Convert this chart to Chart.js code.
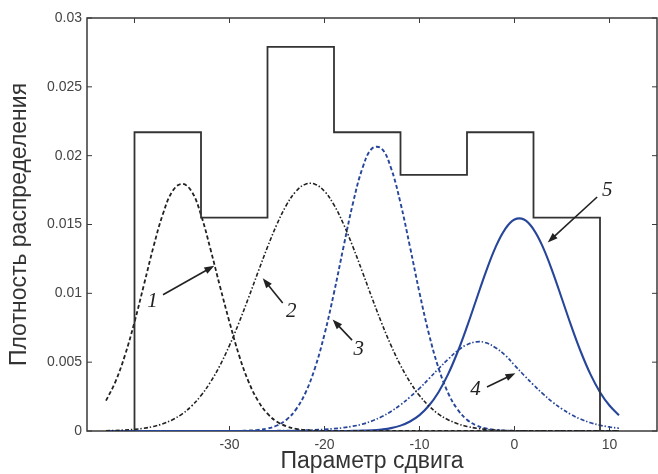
<!DOCTYPE html>
<html>
<head>
<meta charset="utf-8">
<script src="https://cdn.jsdelivr.net/npm/chart.js@4.4.1/dist/chart.umd.min.js"></script>
<style>
    html, body { margin: 0; padding: 0; background: #fff; }
    canvas { display: block; }
</style>
</head>
<body>
<canvas id="chart" width="658" height="474"></canvas>
<script>
// Sample points of the density curves (shift parameter)
const xGrid = [-43, -42, -41, -40, -39, -38, -37, -36, -35, -34, -33, -32, -31, -30,
    -29, -28, -27, -26, -25, -24, -23, -22, -21, -20, -19, -18, -17, -16, -15, -14,
    -13, -12, -11, -10, -9, -8, -7, -6, -5, -4, -3, -2, -1, 0, 1, 2, 3, 4, 5, 6,
    7, 8, 9, 10, 11];

const curve1 = [0.00220, 0.00359, 0.00551, 0.00791, 0.01064, 0.01339, 0.01578, 0.01742, 0.01795, 0.01742,
    0.01570, 0.01320, 0.01050, 0.00791, 0.00551, 0.00359, 0.00220, 0.00126, 0.00067, 0.00034,
    0.00016, 0.00007, 0.00003, 0.00001, 0, 0, 0, 0, 0, 0,
    0, 0, 0, 0, 0, 0, 0, 0, 0, 0, 0, 0, 0, 0, 0, 0, 0, 0, 0, 0, 0, 0, 0, 0, 0];

const curve2 = [0.00002, 0.00004, 0.00007, 0.00012, 0.00020, 0.00033, 0.00053, 0.00082, 0.00123, 0.00181,
    0.00257, 0.00356, 0.00477, 0.00622, 0.00787, 0.00967, 0.01154, 0.01336, 0.01503, 0.01642,
    0.01741, 0.01793, 0.01793, 0.01741, 0.01642, 0.01503, 0.01336, 0.01154, 0.00967, 0.00787,
    0.00622, 0.00477, 0.00356, 0.00257, 0.00181, 0.00123, 0.00082, 0.00053, 0.00033, 0.00020,
    0.00012, 0.00007, 0.00004, 0.00002, 0.00001, 0, 0, 0, 0, 0, 0, 0, 0, 0, 0];

const curve3 = [0, 0, 0, 0, 0, 0, 0, 0, 0, 0, 0, 0, 0, 0,
    0.00001, 0.00003, 0.00008, 0.00018, 0.00040, 0.00082, 0.00157, 0.00278, 0.00458, 0.00703,
    0.01004, 0.01337, 0.01656, 0.01910, 0.02052, 0.02052, 0.01910, 0.01656, 0.01337, 0.01004,
    0.00703, 0.00458, 0.00278, 0.00157, 0.00082, 0.00040, 0.00018, 0.00008, 0.00003, 0.00001,
    0, 0, 0, 0, 0, 0, 0, 0, 0, 0, 0];

const curve4 = [0, 0, 0, 0, 0, 0, 0, 0, 0, 0, 0, 0, 0, 0, 0, 0, 0,
    0.00001, 0.00002, 0.00003, 0.00004, 0.00006, 0.00008, 0.00012, 0.00017, 0.00024, 0.00035,
    0.00050, 0.00073, 0.00103, 0.00142, 0.00190, 0.00247, 0.00310, 0.00380, 0.00452, 0.00520,
    0.00583, 0.00627, 0.00648, 0.00641, 0.00605, 0.00552, 0.00478, 0.00405, 0.00335, 0.00270,
    0.00210, 0.00160, 0.00118, 0.00085, 0.00060, 0.00042, 0.00029, 0.00020];

const curve5 = [0, 0, 0, 0, 0, 0, 0, 0, 0, 0, 0, 0, 0, 0, 0, 0, 0, 0, 0, 0, 0, 0, 0, 0, 0, 0,
    0.00001, 0.00003, 0.00005, 0.00011, 0.00021, 0.00039, 0.00069, 0.00115, 0.00185, 0.00282,
    0.00411, 0.00572, 0.00758, 0.00959, 0.01158, 0.01334, 0.01465, 0.01536, 0.01536, 0.01465,
    0.01334, 0.01158, 0.00959, 0.00758, 0.00572, 0.00411, 0.00282, 0.00185, 0.00115];

// Histogram: bin edges and densities
const histEdges = [-40, -33, -26, -19, -12, -5, 2, 9];
const histHeights = [0.0217, 0.0155, 0.0279, 0.0217, 0.0186, 0.0217, 0.0155];

// Axis ticks
const xTickValues = [-40, -30, -20, -10, 0, 10];
const xTickLabels = ['', '-30', '-20', '-10', '0', '10'];
const yTickValues = [0, 0.005, 0.01, 0.015, 0.02, 0.025, 0.03];
const yTickLabels = ['0', '0.005', '0.01', '0.015', '0.02', '0.025', '0.03'];

// Numbered callouts: label point, arrow start, arrow tip (data units)
const callouts = [
    { text: '1', at: [-38.1, 0.0094], from: [-37.0, 0.0099], to: [-31.6, 0.0120] },
    { text: '2', at: [-23.5, 0.0087], from: [-24.4, 0.0093], to: [-26.5, 0.0111] },
    { text: '3', at: [-16.4, 0.0059], from: [-17.1, 0.0066], to: [-19.15, 0.0081] },
    { text: '4', at: [-4.1, 0.0030], from: [-2.9, 0.0032], to: [0.1, 0.0042] },
    { text: '5', at: [9.75, 0.0175], from: [8.7, 0.0170], to: [3.5, 0.0137] },
];

const BLUE = '#27469a';
const DARK = '#333333';
const SANS = '"Liberation Sans", Arial, sans-serif';

const toPoints = ys => xGrid.map((x, i) => ({ x: x, y: ys[i] }));

// histogram outline as a stepped line (horizontal first, then vertical)
const histPoints = [{ x: histEdges[0], y: 0 }];
histHeights.forEach((h, i) => histPoints.push({ x: histEdges[i], y: h }));
histPoints.push({ x: histEdges[histEdges.length - 1], y: 0 });

function drawArrow(ctx, x0, y0, x1, y1) {
    const ang = Math.atan2(y1 - y0, x1 - x0);
    const len = 10, half = 3.6;
    const c = Math.cos(ang), s = Math.sin(ang);
    ctx.beginPath();
    ctx.moveTo(x0, y0);
    ctx.lineTo(x1 - c * len * 0.7, y1 - s * len * 0.7);
    ctx.stroke();
    ctx.beginPath();
    ctx.moveTo(x1, y1);
    ctx.lineTo(x1 - len * c + half * s, y1 - len * s - half * c);
    ctx.lineTo(x1 - len * c - half * s, y1 - len * s + half * c);
    ctx.closePath();
    ctx.fill();
}

const frameAndNotes = {
    id: 'frameAndNotes',
    beforeDatasetsDraw(chart) {
        const { ctx, chartArea: a, scales: { x, y } } = chart;
        ctx.save();
        ctx.strokeStyle = '#3a3a3a';
        ctx.lineWidth = 1.5;
        ctx.strokeRect(a.left, a.top, a.right - a.left, a.bottom - a.top);
        // MATLAB style inner ticks
        ctx.lineWidth = 1;
        ctx.beginPath();
        xTickValues.forEach(v => {
            const px = x.getPixelForValue(v);
            ctx.moveTo(px, a.bottom); ctx.lineTo(px, a.bottom - 5);
            ctx.moveTo(px, a.top); ctx.lineTo(px, a.top + 5);
        });
        yTickValues.forEach(v => {
            const py = y.getPixelForValue(v);
            ctx.moveTo(a.left, py); ctx.lineTo(a.left + 5, py);
            ctx.moveTo(a.right, py); ctx.lineTo(a.right - 5, py);
        });
        ctx.stroke();
        ctx.restore();
    },
    afterDatasetsDraw(chart) {
        const { ctx, scales: { x, y } } = chart;
        ctx.save();
        ctx.strokeStyle = '#222';
        ctx.fillStyle = '#222';
        ctx.lineWidth = 1.6;
        ctx.font = 'italic 21px "Liberation Serif", "DejaVu Serif", serif';
        ctx.textAlign = 'center';
        ctx.textBaseline = 'middle';
        callouts.forEach(c => {
            drawArrow(ctx,
                x.getPixelForValue(c.from[0]), y.getPixelForValue(c.from[1]),
                x.getPixelForValue(c.to[0]), y.getPixelForValue(c.to[1]));
            ctx.fillText(c.text, x.getPixelForValue(c.at[0]), y.getPixelForValue(c.at[1]));
        });
        ctx.restore();
    }
};

const curveStyle = (color, dash, width) => ({
    borderColor: color,
    borderWidth: width,
    borderDash: dash,
    pointRadius: 0,
    tension: 0.4,
    fill: false,
});

new Chart(document.getElementById('chart'), {
    type: 'line',
    data: {
        datasets: [
            { label: 'hist', data: histPoints, borderColor: DARK, borderWidth: 1.8,
              stepped: 'before', pointRadius: 0, fill: false },
            { label: '1', data: toPoints(curve1), ...curveStyle('#222', [4, 2.5], 1.8) },
            { label: '2', data: toPoints(curve2), ...curveStyle('#222', [4, 2, 1.5, 2], 1.6) },
            { label: '3', data: toPoints(curve3), ...curveStyle(BLUE, [4, 2.5], 1.9) },
            { label: '4', data: toPoints(curve4), ...curveStyle(BLUE, [4, 2, 1.5, 2], 1.7) },
            { label: '5', data: toPoints(curve5), ...curveStyle(BLUE, [], 2.1) },
        ]
    },
    options: {
        responsive: false,
        animation: false,
        layout: { padding: { left: 0, top: 18, right: 1, bottom: 0 } },
        plugins: {
            legend: { display: false },
            tooltip: { enabled: false },
        },
        scales: {
            x: {
                type: 'linear',
                min: -45,
                max: 15,
                grid: { display: false, drawTicks: false },
                border: { display: false },
                afterBuildTicks: scale => { scale.ticks = xTickValues.map(v => ({ value: v })); },
                afterFit: scale => { scale.height = 43; },
                ticks: {
                    padding: 6,
                    color: '#444',
                    font: { family: SANS, size: 14 },
                    callback: (v, i) => xTickLabels[i],
                },
                title: {
                    display: true,
                    text: 'Параметр сдвига',
                    color: '#333',
                    padding: { top: 0, bottom: 1 },
                    font: { family: SANS, size: 23, lineHeight: 1.0 },
                },
            },
            y: {
                min: 0,
                max: 0.03,
                grid: { display: false, drawTicks: false },
                border: { display: false },
                afterBuildTicks: scale => { scale.ticks = yTickValues.map(v => ({ value: v })); },
                afterFit: scale => { scale.width = 87; },
                ticks: {
                    padding: 5,
                    color: '#444',
                    font: { family: SANS, size: 14 },
                    callback: (v, i) => yTickLabels[i],
                },
                title: {
                    display: true,
                    text: 'Плотность распределения',
                    color: '#333',
                    padding: { top: 8, bottom: 0 },
                    font: { family: SANS, size: 23, lineHeight: 1.0 },
                },
            },
        },
    },
    plugins: [frameAndNotes],
});
</script>
</body>
</html>
